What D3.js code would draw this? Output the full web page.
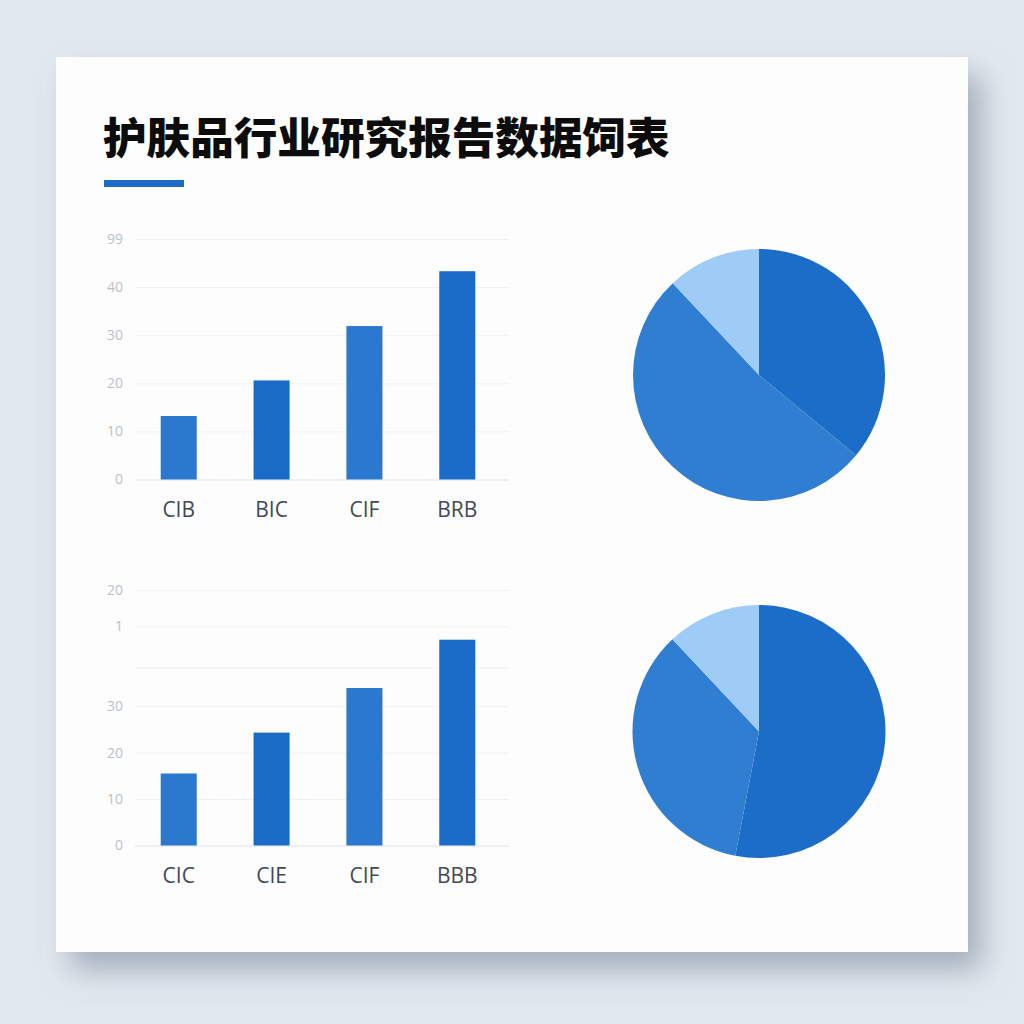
<!DOCTYPE html>
<html>
<head>
<meta charset="utf-8">
<script src="https://cdn.jsdelivr.net/npm/d3@7"></script>
<style>
  html, body { margin: 0; padding: 0; background: #e2e8ef; }
  svg { display: block; }
</style>
</head>
<body>
<svg id="chart" width="1024" height="1024"></svg>
<script>
// title
const title = '护肤品行业研究报告数据饲表';

// top bar chart
const topCats = ['CIB', 'BIC', 'CIF', 'BRB'];
const topValues = [13.2, 20.6, 31.9, 43.3];
const topTicks = [0, 10, 20, 30, 40, 50];
const topTickLabels = ['0', '10', '20', '30', '40', '99'];

// bottom bar chart
const botCats = ['CIC', 'CIE', 'CIF', 'BBB'];
const botValues = [15.5, 24.3, 33.9, 44.3];
const botTicks = [0, 10, 20, 30, 38.3, 47.2, 55];
const botTickLabels = ['0', '10', '20', '30', '', '1', '20'];

// pies (clockwise from 12 o'clock)
const topPie = [36, 52, 12];
const botPie = [53, 35, 12];

const barColors = ['#2b79cf', '#1a6bc6', '#2a78cf', '#1a6cc8'];
const pieColors = ['#1b6dc7', '#2f7ed1', '#9fcbf7'];

const svg = d3.select('#chart');

// card with soft shadow
const defs = svg.append('defs');
const f = defs.append('filter').attr('id', 'shadow')
  .attr('x', '-10%').attr('y', '-10%').attr('width', '130%').attr('height', '130%');
f.append('feDropShadow')
  .attr('dx', 14).attr('dy', 18).attr('stdDeviation', 15)
  .attr('flood-color', '#6f7f92').attr('flood-opacity', 0.55);

svg.append('rect')
  .attr('x', 56).attr('y', 57)
  .attr('width', 912).attr('height', 895)
  .attr('fill', '#fdfdfd')
  .attr('filter', 'url(#shadow)');

// title + accent line
svg.append('text')
  .attr('x', 103).attr('y', 135)
  .attr('dominant-baseline', 'central')
  .attr('font-family', '"Noto Sans CJK SC", sans-serif')
  .attr('font-weight', 900)
  .attr('font-size', 43.6)
  .attr('fill', '#0c0c0c')
  .text(title);

svg.append('rect')
  .attr('x', 104).attr('y', 180)
  .attr('width', 80).attr('height', 7)
  .attr('fill', '#1a6cc8');

function barChart(cats, values, ticks, labels, y0, y1, yMax, labelY) {
  const x = d3.scaleBand()
    .domain(cats)
    .range([131, 505])
    .paddingInner(0.612)
    .paddingOuter(0.32);

  const y = d3.scaleLinear()
    .domain([0, yMax])
    .range([y0, y1]);

  // gridlines + tick labels
  const yAxis = d3.axisLeft(y)
    .tickValues(ticks)
    .tickSize(-374)
    .tickPadding(12)
    .tickFormat((d, i) => labels[i]);

  const g = svg.append('g')
    .attr('transform', 'translate(135,0)')
    .call(yAxis);
  g.select('.domain').remove();
  g.selectAll('.tick line')
    .attr('stroke', d => d === 0 ? '#dde3ea' : '#eef1f4')
    .attr('stroke-width', 1);
  g.selectAll('.tick text')
    .attr('font-family', '"Open Sans", sans-serif')
    .attr('font-size', 14)
    .attr('fill', '#bcc0c6');

  svg.append('g').selectAll('rect')
    .data(values)
    .join('rect')
    .attr('x', (d, i) => x(cats[i]))
    .attr('y', d => y(d))
    .attr('width', x.bandwidth())
    .attr('height', d => y(0) - y(d))
    .attr('fill', (d, i) => barColors[i]);

  svg.append('g').selectAll('text')
    .data(cats)
    .join('text')
    .attr('x', d => x(d) + x.bandwidth() / 2)
    .attr('y', labelY)
    .attr('text-anchor', 'middle')
    .attr('dominant-baseline', 'central')
    .attr('font-family', '"Open Sans", sans-serif')
    .attr('font-size', 21)
    .attr('fill', '#424955')
    .text(d => d);
}

barChart(topCats, topValues, topTicks, topTickLabels, 479.5, 239, 50, 509);
barChart(botCats, botValues, botTicks, botTickLabels, 845.5, 590, 55, 875);

function pieChart(values, cx, cy, r) {
  const pie = d3.pie().sort(null)(values);
  const arc = d3.arc().innerRadius(0).outerRadius(r);
  svg.append('g')
    .attr('transform', `translate(${cx},${cy})`)
    .selectAll('path')
    .data(pie)
    .join('path')
    .attr('d', arc)
    .attr('fill', (d, i) => pieColors[i]);
}

pieChart(topPie, 759, 375, 126);
pieChart(botPie, 759, 731.5, 126.5);
</script>
</body>
</html>
